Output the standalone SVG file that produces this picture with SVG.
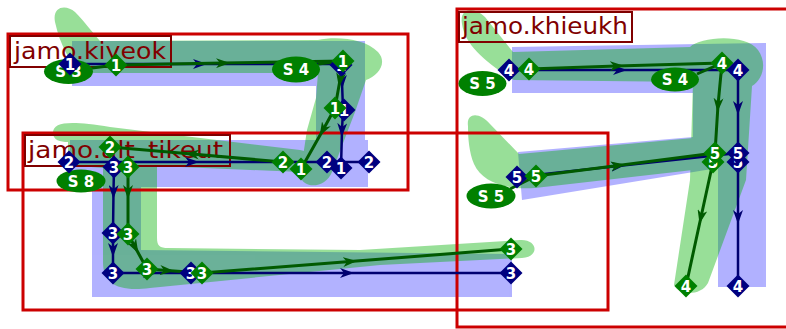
<svg xmlns="http://www.w3.org/2000/svg" width="786" height="329" viewBox="0 0 786 329">
<style>
.frame{fill:none;stroke:#cc0000;stroke-width:3}
.lbox{fill:none;stroke:#800000;stroke-width:2}
.ltxt{font-family:"DejaVu Sans",sans-serif;font-size:23px;fill:#800000}
.cn{fill:none;stroke:#000070;stroke-width:2.5;marker-mid:url(#an)}
.cg{fill:none;stroke:#005a00;stroke-width:3;marker-mid:url(#ag)}
.nv{fill:#000080}
.gr{fill:#008000}
.dt{font-family:"DejaVu Sans",sans-serif;font-size:15px;font-weight:bold;fill:#ffffff;text-anchor:middle}
.et{font-family:"DejaVu Sans",sans-serif;font-size:15px;font-weight:bold;fill:#ffffff;text-anchor:middle}
</style>
<defs>
<path id="dm" d="M0,-11.5 L11.5,0 L0,11.5 L-11.5,0 Z"/>
<marker id="an" viewBox="0 0 14 10" refX="7" refY="5" markerWidth="14" markerHeight="10" markerUnits="userSpaceOnUse" orient="auto"><path d="M0,0 L14,5 L0,10 L4,5 Z" fill="#000070"/></marker>
<marker id="ag" viewBox="0 0 14 10" refX="7" refY="5" markerWidth="14" markerHeight="10" markerUnits="userSpaceOnUse" orient="auto"><path d="M0,0 L14,5 L0,10 L4,5 Z" fill="#005a00"/></marker>
</defs>
<g id="bands-blue" opacity="0.3" fill="#0000ff">
<path d="M72,41 L365,41 L365,140 L316,140 L316,86 L72,86 Z"/>
<path d="M70,140 L368,140 L368,187 L141,187 L141,250 L512,254 L512,297 L92,297 L92,187 L70,187 Z"/>
<path d="M512,47 L766,43 L766,287 L718,287 L718,168 L522,200 L518,152 L693,137 L693,93 L512,93 Z"/>
</g>
<g id="bands-green" opacity="0.4" fill="#00b000">
<path d="M55,22 C52,6 66,4 75,12 C85,22 92,32 100,41 L318,40 C335,36 365,38 378,52 C388,63 378,76 366,80 L355,112 L332,172 C326,188 304,190 300,176 L307,130 L316,98 L318,73 L80,73 C70,62 60,45 55,22 Z"/>
<path d="M53,133 C53,121 72,121 110,127 L300,150 C318,153 318,172 300,172 L157,166 L157,238 C157,246 160,248 168,248 L360,250 L520,240 C538,239 540,257 522,258 L380,265 L150,288 C118,292 103,284 103,262 L103,168 L68,165 L68,142 C60,142 53,140 53,133 Z"/>
<path d="M462,24 C459,8 474,6 485,17 L513,52 L690,47 C700,37 745,33 758,50 C768,64 762,80 752,86 L746,180 L708,283 C701,296 679,296 674,285 L690,180 L693,82 L514,80 C485,62 465,45 462,24 Z"/>
<path d="M468,126 C466,112 480,112 490,124 L519,154 L693,138 L693,170 L535,188 C505,190 482,182 474,164 C469,152 468,138 468,126 Z"/>
</g>
<g id="frame-kiyeok">
<rect class="frame" x="8" y="34" width="400" height="156"/>
<rect class="lbox" x="10" y="36" width="161" height="31"/>
<text class="ltxt" x="14" y="59" textLength="152" lengthAdjust="spacingAndGlyphs">jamo.kiyeok</text>
</g>
<g id="frame-alt_tikeut">
<rect class="frame" x="23" y="133" width="585" height="177"/>
<rect class="lbox" x="25" y="135" width="205" height="31"/>
<text class="ltxt" x="28" y="158" textLength="195" lengthAdjust="spacingAndGlyphs">jamo.alt_tikeut</text>
</g>
<g id="frame-khieukh">
<rect class="frame" x="457" y="9" width="335" height="318"/>
<rect class="lbox" x="459" y="12" width="173" height="30"/>
<text class="ltxt" x="462" y="34" textLength="166" lengthAdjust="spacingAndGlyphs">jamo.khieukh</text>
</g>
<g id="connectors">
<path class="cn" d="M70,64 L200,64 L341,64"/>
<path d="M333,63 L344,75" fill="none" stroke="#000080" stroke-width="5"/>
<path class="cn" d="M342,66 L342,82 L343,110"/>
<path class="cn" d="M343,110 L342,130 L341,168"/>
<path class="cn" d="M69,162 L192,162 L327,162"/>
<path class="cn" d="M327,162 L369,162"/>
<path class="cn" d="M114,167 L113.5,192 L113,233"/>
<path class="cn" d="M113,233 L113,250 L113,273"/>
<path class="cn" d="M113,273 L150,273 L191,273"/>
<path class="cn" d="M191,273 L347,273 L511,273"/>
<path class="cn" d="M509,70 L620,70 L738,70"/>
<path class="cn" d="M738,70 L738,108 L738,153"/>
<path class="cn" d="M738,153 L738,162"/>
<path class="cn" d="M738,162 L738,217 L738,286"/>
<path class="cn" d="M517,177 L618,166 L738,153"/>
<path class="cg" d="M92,68 L116,65"/>
<path class="cg" d="M116,65 L223,63 L343,61"/>
<path class="cg" d="M343,61 L340,80 L335,108"/>
<path class="cg" d="M335,108 L323,130 L301,169"/>
<path class="cg" d="M318,64 L343,61"/>
<path class="cg" d="M283,162 L192,154 L110,147"/>
<path class="cg" d="M128,167 L128,192 L128,234"/>
<path class="cg" d="M128,234 L135,247 L147,269"/>
<path class="cg" d="M147,269 L167,270.5 L202,273"/>
<path class="cg" d="M202,273 L350,261.5 L511,249"/>
<path class="cg" d="M529,69 L617,66 L722,63"/>
<path class="cg" d="M722,63 L718,105 L715,153"/>
<path class="cg" d="M715,153 L713,162"/>
<path class="cg" d="M713,162 L701,217 L686,286"/>
<path class="cg" d="M536,176 L618,165.5 L715,153"/>
<path class="cg" d="M697,74 L722,63"/>
<path class="cg" d="M510,189 L536,176"/>
</g>
<g id="e-k-s3"><ellipse class="gr" cx="68.5" cy="71.5" rx="24.5" ry="12.5"/><text class="et" x="68.5" y="77">S 3</text></g>
<g id="e-k-s4"><ellipse class="gr" cx="296" cy="69.5" rx="24" ry="13"/><text class="et" x="296" y="75">S 4</text></g>
<g id="e-a-s8"><ellipse class="gr" cx="81" cy="181" rx="24.5" ry="11.5"/><text class="et" x="81" y="186.5">S 8</text></g>
<g id="e-h-s5a"><ellipse class="gr" cx="482.5" cy="83.5" rx="24" ry="12.5"/><text class="et" x="482.5" y="89">S 5</text></g>
<g id="e-h-s4"><ellipse class="gr" cx="675" cy="79.5" rx="24" ry="12"/><text class="et" x="675" y="85">S 4</text></g>
<g id="e-h-s5b"><ellipse class="gr" cx="491" cy="196" rx="24.5" ry="12.5"/><text class="et" x="491" y="201.5">S 5</text></g>
<g id="k-n1a"><use href="#dm" class="nv" x="70" y="64"/><text class="dt" x="70" y="69.5">1</text></g>
<g id="k-g1a"><use href="#dm" class="gr" x="116" y="65"/><text class="dt" x="116" y="70.5">1</text></g>
<g id="k-n1b"><use href="#dm" class="nv" x="341" y="65"/><text class="dt" x="341" y="70.5">1</text></g>
<g id="k-g1b"><use href="#dm" class="gr" x="343" y="61"/><text class="dt" x="343" y="66.5">1</text></g>
<g id="k-n1c"><use href="#dm" class="nv" x="344" y="110"/><text class="dt" x="344" y="115.5">1</text></g>
<g id="k-g1c"><use href="#dm" class="gr" x="335" y="108"/><text class="dt" x="335" y="113.5">1</text></g>
<g id="a-n2a"><use href="#dm" class="nv" x="69" y="162"/><text class="dt" x="69" y="167.5">2</text></g>
<g id="a-g2a"><use href="#dm" class="gr" x="110" y="147"/><text class="dt" x="110" y="152.5">2</text></g>
<g id="a-g2b"><use href="#dm" class="gr" x="283" y="162"/><text class="dt" x="283" y="167.5">2</text></g>
<g id="a-n2b"><use href="#dm" class="nv" x="327" y="162"/><text class="dt" x="327" y="167.5">2</text></g>
<g id="a-n2c"><use href="#dm" class="nv" x="369" y="162"/><text class="dt" x="369" y="167.5">2</text></g>
<g id="k-g1d"><use href="#dm" class="gr" x="301" y="169"/><text class="dt" x="301" y="174.5">1</text></g>
<g id="k-n1d"><use href="#dm" class="nv" x="341" y="168"/><text class="dt" x="341" y="173.5">1</text></g>
<g id="a-n3a"><use href="#dm" class="nv" x="114" y="167"/><text class="dt" x="114" y="172.5">3</text></g>
<g id="a-g3a"><use href="#dm" class="gr" x="128" y="167"/><text class="dt" x="128" y="172.5">3</text></g>
<g id="a-n3b"><use href="#dm" class="nv" x="113" y="233"/><text class="dt" x="113" y="238.5">3</text></g>
<g id="a-g3b"><use href="#dm" class="gr" x="128" y="234"/><text class="dt" x="128" y="239.5">3</text></g>
<g id="a-n3c"><use href="#dm" class="nv" x="113" y="273"/><text class="dt" x="113" y="278.5">3</text></g>
<g id="a-g3c"><use href="#dm" class="gr" x="147" y="269"/><text class="dt" x="147" y="274.5">3</text></g>
<g id="a-n3d"><use href="#dm" class="nv" x="191" y="273"/><text class="dt" x="191" y="278.5">3</text></g>
<g id="a-g3d"><use href="#dm" class="gr" x="202" y="273"/><text class="dt" x="202" y="278.5">3</text></g>
<g id="a-g3e"><use href="#dm" class="gr" x="511" y="249"/><text class="dt" x="511" y="254.5">3</text></g>
<g id="a-n3e"><use href="#dm" class="nv" x="511" y="273"/><text class="dt" x="511" y="278.5">3</text></g>
<g id="h-n4a"><use href="#dm" class="nv" x="509" y="70"/><text class="dt" x="509" y="75.5">4</text></g>
<g id="h-g4a"><use href="#dm" class="gr" x="529" y="69"/><text class="dt" x="529" y="74.5">4</text></g>
<g id="h-g4b"><use href="#dm" class="gr" x="722" y="63"/><text class="dt" x="722" y="68.5">4</text></g>
<g id="h-n4b"><use href="#dm" class="nv" x="738" y="70"/><text class="dt" x="738" y="75.5">4</text></g>
<g id="h-g5c"><use href="#dm" class="gr" x="713" y="162"/><text class="dt" x="713" y="167.5">5</text></g>
<g id="h-n5c"><use href="#dm" class="nv" x="738" y="162"/><text class="dt" x="738" y="167.5">5</text></g>
<g id="h-g5b"><use href="#dm" class="gr" x="715" y="153"/><text class="dt" x="715" y="158.5">5</text></g>
<g id="h-n5b"><use href="#dm" class="nv" x="738" y="153"/><text class="dt" x="738" y="158.5">5</text></g>
<g id="h-n5a"><use href="#dm" class="nv" x="517" y="177"/><text class="dt" x="517" y="182.5">5</text></g>
<g id="h-g5a"><use href="#dm" class="gr" x="536" y="176"/><text class="dt" x="536" y="181.5">5</text></g>
<g id="h-g4c"><use href="#dm" class="gr" x="686" y="286"/><text class="dt" x="686" y="291.5">4</text></g>
<g id="h-n4c"><use href="#dm" class="nv" x="738" y="286"/><text class="dt" x="738" y="291.5">4</text></g>
</svg>
